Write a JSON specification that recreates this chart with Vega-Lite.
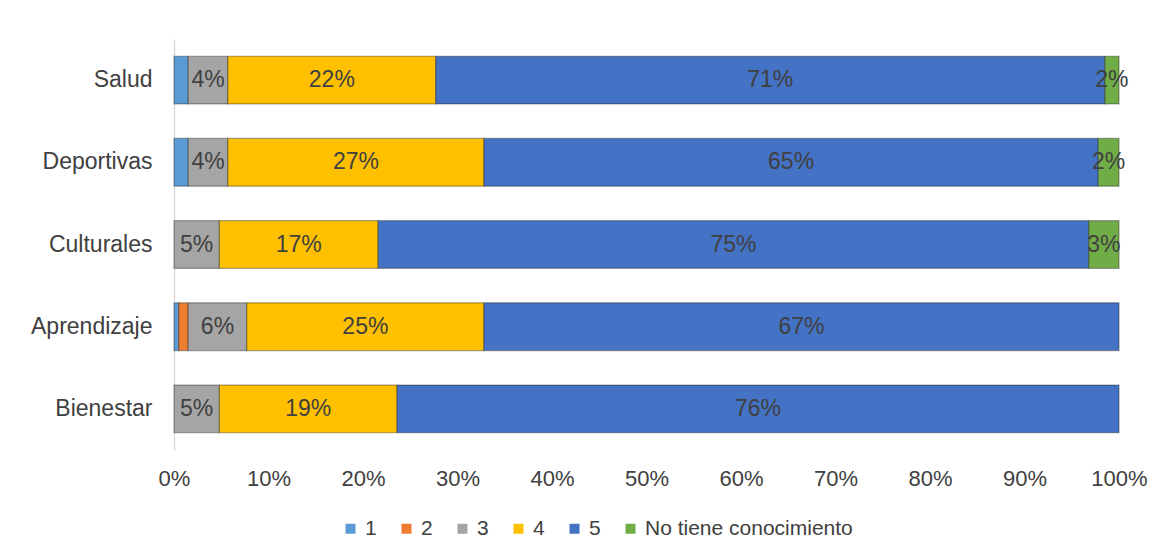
{
  "$schema": "https://vega.github.io/schema/vega-lite/v6.json",
  "width": 945,
  "height": 411,
  "autosize": "none",
  "padding": {"left": 174, "top": 39, "right": 45, "bottom": 109},
  "background": "white",
  "config": {"view": {"stroke": null}, "font": "Liberation Sans"},
  "data": {
    "values": [
      {"area": "Salud", "cat": "1", "v": 1.5},
      {"area": "Salud", "cat": "3", "v": 4.2},
      {"area": "Salud", "cat": "4", "v": 22.0},
      {"area": "Salud", "cat": "5", "v": 70.8},
      {"area": "Salud", "cat": "No tiene conocimiento", "v": 1.5},
      {"area": "Deportivas", "cat": "1", "v": 1.5},
      {"area": "Deportivas", "cat": "3", "v": 4.2},
      {"area": "Deportivas", "cat": "4", "v": 27.1},
      {"area": "Deportivas", "cat": "5", "v": 65.0},
      {"area": "Deportivas", "cat": "No tiene conocimiento", "v": 2.2},
      {"area": "Culturales", "cat": "3", "v": 4.8},
      {"area": "Culturales", "cat": "4", "v": 16.8},
      {"area": "Culturales", "cat": "5", "v": 75.2},
      {"area": "Culturales", "cat": "No tiene conocimiento", "v": 3.2},
      {"area": "Aprendizaje", "cat": "1", "v": 0.5},
      {"area": "Aprendizaje", "cat": "2", "v": 1.0},
      {"area": "Aprendizaje", "cat": "3", "v": 6.2},
      {"area": "Aprendizaje", "cat": "4", "v": 25.1},
      {"area": "Aprendizaje", "cat": "5", "v": 67.2},
      {"area": "Bienestar", "cat": "3", "v": 4.8},
      {"area": "Bienestar", "cat": "4", "v": 18.8},
      {"area": "Bienestar", "cat": "5", "v": 76.4}
    ]
  },
  "transform": [
    {"stack": "v", "groupby": ["area"], "sort": [{"field": "cat", "order": "ascending"}], "as": ["x0", "x1"]},
    {"calculate": "(datum.x0 + datum.x1) / 2", "as": "mid"},
    {"calculate": "format(datum.v, '.0f') + '%'", "as": "lbl"}
  ],
  "encoding": {
    "y": {
      "field": "area",
      "type": "nominal",
      "sort": ["Salud", "Deportivas", "Culturales", "Aprendizaje", "Bienestar"],
      "scale": {"paddingInner": 0.42, "paddingOuter": 0.21},
      "axis": {
        "title": null,
        "ticks": false,
        "domainColor": "#d9d9d9",
        "domainWidth": 1.5,
        "labelFontSize": 23,
        "labelColor": "#404040",
        "labelPadding": 22,
        "labelFont": "Liberation Sans"
      }
    }
  },
  "layer": [
    {
      "mark": {"type": "bar", "stroke": "#202020", "strokeOpacity": 0.4, "strokeWidth": 1.2},
      "encoding": {
        "x": {
          "field": "x0",
          "type": "quantitative",
          "scale": {"domain": [0, 100], "nice": false},
          "axis": {
            "title": null,
            "values": [0, 10, 20, 30, 40, 50, 60, 70, 80, 90, 100],
            "labelExpr": "datum.value + '%'",
            "labelFlush": false,
            "grid": false,
            "domain": false,
            "ticks": false,
            "labelFontSize": 22,
            "labelColor": "#404040",
            "labelPadding": 18,
            "labelFont": "Liberation Sans"
          }
        },
        "x2": {"field": "x1"},
        "color": {
          "field": "cat",
          "type": "nominal",
          "scale": {
            "domain": ["1", "2", "3", "4", "5", "No tiene conocimiento"],
            "range": ["#5B9BD5", "#ED7D31", "#A5A5A5", "#FFC000", "#4472C4", "#70AD47"]
          },
          "legend": {
            "title": null,
            "orient": "none",
            "direction": "horizontal",
            "legendX": 166,
            "legendY": 479,
            "symbolType": "square",
            "symbolSize": 100,
            "symbolStrokeWidth": 0,
            "labelFontSize": 21,
            "labelColor": "#404040",
            "labelFont": "Liberation Sans",
            "labelLimit": 400,
            "columnPadding": 19,
            "labelOffset": 4
          }
        }
      }
    },
    {
      "transform": [{"filter": "datum.cat != '1' && datum.cat != '2'"}],
      "mark": {"type": "text", "fontSize": 23, "color": "#404040", "font": "Liberation Sans", "align": "center", "baseline": "middle"},
      "encoding": {
        "x": {"field": "mid", "type": "quantitative"},
        "text": {"field": "lbl"}
      }
    }
  ]
}
